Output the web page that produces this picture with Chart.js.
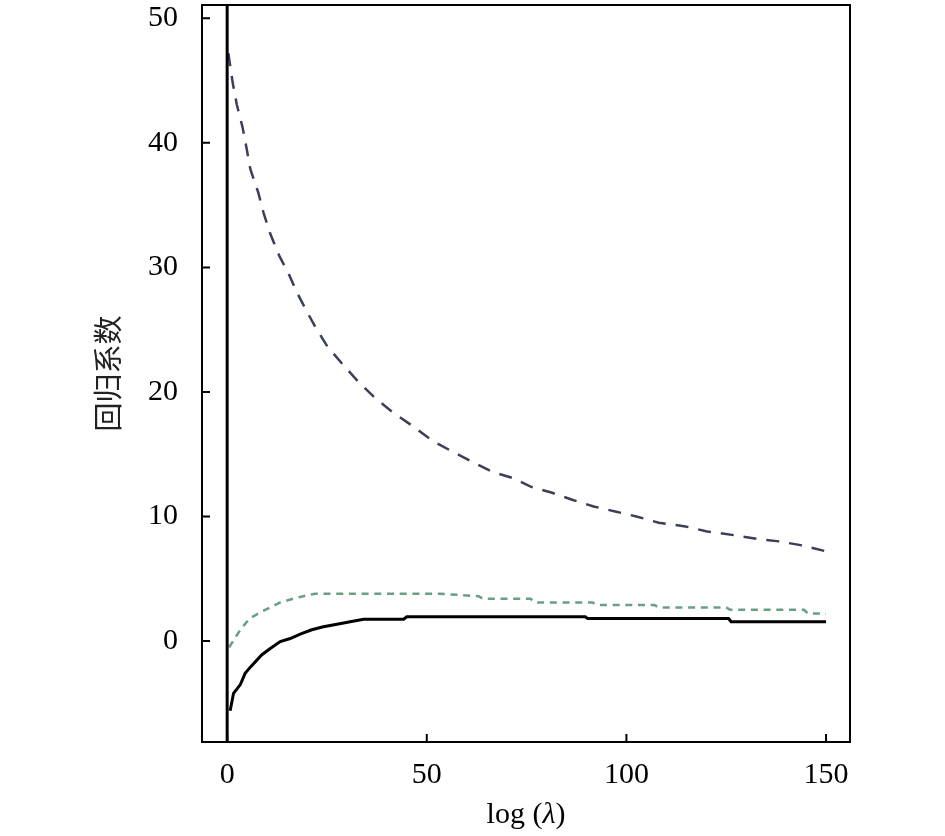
<!DOCTYPE html>
<html lang="zh">
<head>
    <meta charset="UTF-8">
    <script src="https://cdn.jsdelivr.net/npm/chart.js"></script>
    <title>回归系数</title>
    <style>
        body { margin: 0; background: #fff; }
        #box { width: 945px; height: 836px; }
    </style>
</head>
<body>
    <div id="box">
        <canvas id="coef"></canvas>
    </div>
<script>
    // axis limits and tick labels
    const xMin = -6.3, xMax = 156;
    const yMin = -8.11, yMax = 51.07;
    const xTicks = [0, 50, 100, 150];
    const yTicks = [0, 10, 20, 30, 40, 50];

    // dark dashed curve
    const darkX = [0.3, 1.4, 2.4, 3.9, 4.9, 5.8, 7.8, 9.1, 10.8, 13.1, 15.4, 17.3, 19.4, 22.1, 25.0, 28.7, 32.9, 37.1, 41.7, 46.3,
                   51.3, 55.9, 61.3, 66.3, 71.4, 76.0, 81.4, 86.8, 91.8, 97.2, 102.5, 108.1, 114.8, 120.2, 126.9, 132.7, 138.2, 143.6, 150];
    const darkY = [47.2, 44.8, 43.1, 41.2, 39.5, 37.9, 36.0, 34.4, 32.7, 30.9, 29.5, 28.1, 26.8, 25.2, 23.7, 22.3, 20.8, 19.5, 18.3, 17.3,
                   16.1, 15.3, 14.4, 13.6, 13.1, 12.4, 11.9, 11.3, 10.8, 10.4, 10.0, 9.5, 9.2, 8.8, 8.5, 8.2, 8.0, 7.7, 7.2];

    // green dashed curve
    const greenX = [0.5, 3.3, 5.6, 8.3, 10.8, 13.3, 16.6, 19.1, 22, 53, 63, 64, 76, 77, 91.5, 92.5, 107, 108, 125, 126, 144.5, 145.5, 150];
    const greenY = [-0.5, 0.9, 1.8, 2.3, 2.7, 3.1, 3.4, 3.6, 3.8, 3.8, 3.6, 3.4, 3.4, 3.1, 3.1, 2.9, 2.9, 2.7, 2.7, 2.5, 2.5, 2.2, 2.2];

    // black solid curve
    const blackX = [0.75, 1.6, 3.3, 4.5, 5.8, 8.7, 10.8, 13.3, 15.8, 18.3, 21.2, 24.1, 27.5, 30.8, 34.2, 44.2, 45, 89.7, 90.3, 125.6, 126.2, 150];
    const blackY = [-5.6, -4.2, -3.5, -2.6, -2.1, -1.1, -0.6, -0.05, 0.2, 0.55, 0.9, 1.15, 1.35, 1.55, 1.75, 1.75, 1.95, 1.95, 1.8, 1.8, 1.55, 1.55];

    // vertical line at lambda = 0
    const vertX = [0, 0];
    const vertY = [yMax, yMin];

    function pts(xs, ys) {
        return xs.map((x, i) => ({ x: x, y: ys[i] }));
    }

    const serif = '"Liberation Serif", "Times New Roman", serif';

    // frame, inward tick marks, x title with italic lambda
    const frame = {
        id: 'frame',
        afterDraw(chart) {
            const { ctx, chartArea: a } = chart;
            const xs = chart.scales.x, ys = chart.scales.y;
            ctx.save();
            ctx.strokeStyle = '#000';
            ctx.lineWidth = 2;
            ctx.strokeRect(a.left, a.top, a.right - a.left, a.bottom - a.top);
            ctx.beginPath();
            xTicks.forEach(v => {
                const p = xs.getPixelForValue(v);
                ctx.moveTo(p, a.bottom);
                ctx.lineTo(p, a.bottom - 8);
            });
            yTicks.forEach(v => {
                const p = ys.getPixelForValue(v);
                ctx.moveTo(a.left, p);
                ctx.lineTo(a.left + 8, p);
            });
            ctx.stroke();

            // x axis title
            const parts = [['log (', ''], ['λ', 'italic '], [')', '']];
            let w = 0;
            parts.forEach(p => { ctx.font = p[1] + '30px ' + serif; w += ctx.measureText(p[0]).width; });
            let x = (a.left + a.right) / 2 - w / 2;
            ctx.fillStyle = '#000';
            ctx.textBaseline = 'alphabetic';
            ctx.textAlign = 'left';
            parts.forEach(p => {
                ctx.font = p[1] + '30px ' + serif;
                ctx.fillText(p[0], x, 823);
                x += ctx.measureText(p[0]).width;
            });
            ctx.restore();
        }
    };

    new Chart(document.getElementById('coef'), {
        type: 'line',
        data: {
            datasets: [
                { data: pts(vertX, vertY), borderColor: '#000', borderWidth: 3 },
                { data: pts(darkX, darkY), borderColor: '#3b3f58', borderWidth: 2.5, borderDash: [13, 10] },
                { data: pts(greenX, greenY), borderColor: '#6a9f86', borderWidth: 2.5, borderDash: [7, 5.7] },
                { data: pts(blackX, blackY), borderColor: '#000', borderWidth: 3 }
            ]
        },
        options: {
            responsive: true,
            maintainAspectRatio: false,
            animation: false,
            layout: { padding: { top: 5, right: 95, left: 0, bottom: 0 } },
            elements: { point: { radius: 0 }, line: { tension: 0 } },
            plugins: { legend: { display: false }, tooltip: { enabled: false } },
            scales: {
                x: {
                    type: 'linear',
                    min: xMin,
                    max: xMax,
                    afterBuildTicks: s => { s.ticks = xTicks.map(v => ({ value: v })); },
                    afterFit: s => { s.height = 94; s.paddingLeft = 0; s.paddingRight = 0; },
                    grid: { display: false, drawTicks: false },
                    border: { display: false },
                    ticks: { color: '#000', padding: 15, maxRotation: 0, font: { family: serif, size: 30 } }
                },
                y: {
                    type: 'linear',
                    min: yMin,
                    max: yMax,
                    afterBuildTicks: s => { s.ticks = yTicks.map(v => ({ value: v })); },
                    afterFit: s => { s.width = 202; s.paddingTop = 0; s.paddingBottom = 0; },
                    grid: { display: false, drawTicks: false },
                    border: { display: false },
                    ticks: { color: '#000', padding: 24, font: { family: serif, size: 30 } },
                    title: {
                        display: true,
                        text: '回归系数',
                        color: '#222',
                        padding: { top: 91, bottom: 0 },
                        font: { family: '"Noto Sans CJK SC", sans-serif', size: 29 }
                    }
                }
            }
        },
        plugins: [frame]
    });
</script>
</body>
</html>
